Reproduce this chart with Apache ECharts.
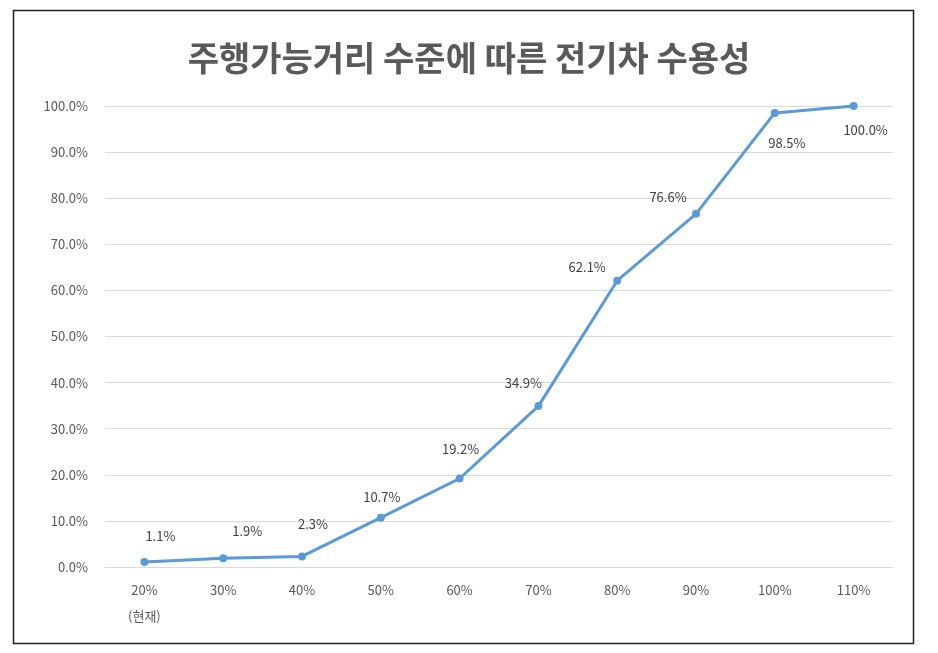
<!DOCTYPE html>
<html>
<head>
<meta charset="utf-8">
<script src="https://cdn.jsdelivr.net/npm/echarts@6/dist/echarts.min.js"></script>
<style>
  html, body { margin: 0; padding: 0; background: #fff; }
  #chart { width: 938px; height: 653px; }
</style>
</head>
<body>
<div id="chart"></div>
<script>
const title = '주행가능거리 수준에 따른 전기차 수용성';
const categories = ['20%\n(현재)', '30%', '40%', '50%', '60%', '70%', '80%', '90%', '100%', '110%'];
const acceptance = [1.1, 1.9, 2.3, 10.7, 19.2, 34.9, 62.1, 76.6, 98.5, 100.0];

// where each value label sits relative to its point (px)
const labelOffsets = [
  [16, -26], [24, -27], [11, -32], [1, -21], [1, -29],
  [-15, -23], [-30, -14], [-28, -17], [12, 30], [12, 24]
];

const font = '"Noto Sans CJK KR", "Noto Sans", sans-serif';
const chart = echarts.init(document.getElementById('chart'));

chart.setOption({
  animation: false,
  backgroundColor: '#fff',
  textStyle: { fontFamily: font },
  title: {
    text: title,
    left: 'center',
    top: 36,
    textStyle: { fontSize: 34, fontWeight: 'bold', color: '#595959', fontFamily: font }
  },
  graphic: [{
    type: 'rect',
    shape: { x: 13.5, y: 10.5, width: 900, height: 633 },
    style: { fill: 'none', stroke: '#222', lineWidth: 1.5 },
    silent: true
  }],
  grid: { left: 105, right: 45, top: 106, bottom: 86 },
  xAxis: {
    type: 'category',
    data: categories,
    boundaryGap: true,
    axisLine: { show: true, lineStyle: { color: '#d9d9d9' } },
    axisTick: { show: false },
    axisLabel: { color: '#595959', fontSize: 13, lineHeight: 26, margin: 10, interval: 0 }
  },
  yAxis: {
    type: 'value',
    min: 0,
    max: 100,
    interval: 10,
    axisLine: { show: false },
    axisTick: { show: false },
    splitLine: { lineStyle: { color: '#d9d9d9' } },
    axisLabel: { color: '#595959', fontSize: 13, margin: 17, formatter: v => v.toFixed(1) + '%' }
  },
  series: [{
    type: 'line',
    data: acceptance.map((v, i) => ({
      value: v,
      label: { offset: labelOffsets[i] }
    })),
    symbol: 'circle',
    symbolSize: 8,
    lineStyle: { color: '#5b9bd5', width: 3 },
    itemStyle: { color: '#5b9bd5' },
    label: {
      show: true,
      position: 'inside',
      color: '#404040',
      fontSize: 13,
      formatter: p => p.value.toFixed(1) + '%'
    }
  }]
});

window.addEventListener('resize', () => chart.resize());
</script>
</body>
</html>
